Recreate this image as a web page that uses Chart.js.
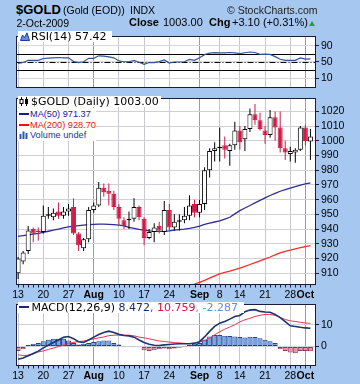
<!DOCTYPE html>
<html><head><meta charset="utf-8">
<script src="https://cdn.jsdelivr.net/npm/chart.js@4.4.1/dist/chart.umd.min.js"></script>
<style>
html,body{margin:0;padding:0;}
body{width:360px;height:384px;background:#a6c8f0;position:relative;overflow:hidden;font-family:"Liberation Sans",Arial,sans-serif;color:#000;}
canvas{position:absolute;left:0;}
.t{position:absolute;white-space:nowrap;line-height:1;}
.lg{position:absolute;white-space:nowrap;line-height:1;background:#fff;font-family:"DejaVu Sans",sans-serif;font-size:11px;}
.sm{position:absolute;white-space:nowrap;line-height:1;background:#fff;font-family:"Liberation Sans",Arial,sans-serif;font-size:9.2px;}
.ln{position:absolute;height:2px;width:10px;}
</style></head><body>
<canvas id="cRsi" width="360" height="68" style="top:28px"></canvas>
<canvas id="cPx" width="360" height="212" style="top:90px"></canvas>
<canvas id="cMacd" width="360" height="88" style="top:296px"></canvas>

<div class="t" style="left:16px;top:3px;font-size:13px;font-weight:bold">$GOLD</div>
<div class="t" style="left:63px;top:4.8px;font-size:10.5px">(Gold (EOD))</div>
<div class="t" style="left:130px;top:4.8px;font-size:10.5px">INDX</div>
<div class="t" style="left:227px;top:4.8px;font-size:10.5px;color:#222">© StockCharts.com</div>
<div class="t" style="left:16.5px;top:17.8px;font-size:10.5px">2-Oct-2009</div>
<div class="t" style="left:129px;top:17.4px;font-size:11px;font-weight:bold">Close</div>
<div class="t" style="left:163px;top:17.4px;font-size:11px">1003.00</div>
<div class="t" style="left:209px;top:17.4px;font-size:11px;font-weight:bold">Chg</div>
<div class="t" style="left:232px;top:17.4px;font-size:11px">+3.10 (+0.31%)</div>
<div style="position:absolute;left:309px;top:21px;width:0;height:0;border-left:3.5px solid transparent;border-right:3.5px solid transparent;border-bottom:5px solid #2a9a3a;"></div>

<!-- RSI legend -->
<div class="lg" style="left:17.5px;top:30.5px;width:94px;height:11px;"></div>
<svg style="position:absolute;left:20px;top:32px" width="10" height="9"><path d="M0.5 8.5 L2.5 3 L4.5 5.5 L7 0.8 L9.5 8.5 Z" fill="#5a8ee0" stroke="#1f3f8f" stroke-width="1"/></svg>
<div class="lg" style="left:31px;top:30.7px;">RSI(14) 57.42</div>

<!-- price legend -->
<div class="lg" style="left:17.5px;top:95.5px;width:143px;height:11.5px;"></div>
<svg style="position:absolute;left:19px;top:97px" width="10" height="9"><path d="M2.5 0 V9 M7.5 0 V9" stroke="#000" stroke-width="1"/><rect x="1" y="2.5" width="3" height="4" fill="#fff" stroke="#000" stroke-width="1"/><rect x="6" y="2" width="3" height="5" fill="#000"/></svg>
<div class="lg" style="left:31px;top:96.4px;">$GOLD (Daily) 1003.00</div>
<div class="sm" style="left:17.5px;top:107.5px;width:78px;height:33px;"></div>
<div class="ln" style="left:19px;top:113px;background:#1a1a90"></div>
<div class="sm" style="left:30px;top:109.5px;color:#1a1a90">MA(50) 971.37</div>
<div class="ln" style="left:19px;top:124px;background:#f01010"></div>
<div class="sm" style="left:30px;top:120.5px;color:#f01010">MA(200) 928.70</div>
<svg style="position:absolute;left:19px;top:131px" width="10" height="8"><rect x="0.5" y="3" width="2" height="5" fill="#2a58b8"/><rect x="3.5" y="0.5" width="2" height="7.5" fill="#2a58b8"/><rect x="6.5" y="2" width="2" height="6" fill="#2a58b8"/></svg>
<div class="sm" style="left:30px;top:130.7px;color:#1a3a8a">Volume undef</div>

<!-- MACD legend -->
<div class="lg" style="left:17.5px;top:302px;width:226px;height:11px;"></div>
<div class="ln" style="left:19px;top:306px;background:#1a2a70"></div>
<div class="lg" style="left:31.5px;top:301.7px;"><span style="color:#000">MACD(12,26,9) </span><span style="color:#1a2a70">8.472</span><span style="color:#e0103a">, 10.759</span><span style="color:#5a90e0">, -2.287</span></div>

<script>
// ---------------- DATA ----------------
const dates = [
 'Jul 13','Jul 14','Jul 15','Jul 16','Jul 17','Jul 20','Jul 21','Jul 22','Jul 23','Jul 24',
 'Jul 27','Jul 28','Jul 29','Jul 30','Jul 31','Aug 3','Aug 4','Aug 5','Aug 6','Aug 7',
 'Aug 10','Aug 11','Aug 12','Aug 13','Aug 14','Aug 17','Aug 18','Aug 19','Aug 20','Aug 21',
 'Aug 24','Aug 25','Aug 26','Aug 27','Aug 28','Aug 31','Sep 1','Sep 2','Sep 3','Sep 4',
 'Sep 8','Sep 9','Sep 10','Sep 11','Sep 14','Sep 15','Sep 16','Sep 17','Sep 18','Sep 21',
 'Sep 22','Sep 23','Sep 24','Sep 25','Sep 28','Sep 29','Sep 30','Oct 1','Oct 2'];
const openP = [
 910,918,925,940,939,938,949,948,952,949,
 952,955,937,927,933,953,956,968,966,964,
 955,946,946,947,955,947,934,938,942,938,
 953,941,945,946,949,957,951,957,980,993,
 995,997,993,997,1007,1001,1008,1018,1014,1007,
 1004,1016,1009,995,991,992,994,1009,999.5];
const highP = [
 921,925,942,941,941,956,955,954,958,955,
 957,961,938,934,955,958,972,971,971,966,
 957,948,952,961,956,948,940,944,945,959,
 957,950,950,955,963,960,960,982,995,999,
 1009,1003,998,1013,1010,1010,1022,1025,1019,1010,
 1021,1020,1020,1000,996,995,1010,1011,1008];
const lowP = [
 906,916,923,931,932,937,947,946,947,947,
 949,936,925,925,931,951,955,962,956,953,
 943,940,940,945,946,929,933,931,937,936,
 939,939,939,944,946,948,948,953,975,986,
 986,988,983,994,994,993,1006,1011,1007,998,
 1002,1000,992,987,986,985,993,997,987];
const closeP = [
 920,924,939,937,938,949,950,951,949,952,
 954,937,929,933,953,956,968,965,964,955,
 947,942,947,955,948,934,938,941,939,953,
 941,945,946,949,956,951,957,980,993,995,
 996,994,997,1007,999,1008,1018,1014,1008,1004,
 1016,1009,995,992,993,994,1009,999.9,1003];
const ma50 = [
 935,935.5,936,936.5,937,937.8,938.5,939.2,940,940.8,
 941.5,942,942.4,942.7,943,943.2,943.3,943.3,943.2,943,
 942.6,942.2,941.2,940.5,939.8,939.2,938.8,938.5,938.4,938.5,
 938.8,939.2,939.6,940,940.5,941.2,942,943.2,944,944.8,
 945.6,946.8,948,950.3,952.5,954.3,956,957.8,959.5,961.2,
 962.8,964.3,965.7,966.8,967.8,968.8,969.8,970.7,971.37];
const ma200 = [
 null,null,null,null,null,null,null,null,null,null,
 null,null,null,null,null,null,null,null,null,null,
 null,null,null,null,null,null,null,null,null,null,
 null,null,899.8,900.8,901.7,902.6,903.7,905.1,906.6,908.1,
 909.5,910.5,911.4,912.4,913.5,914.7,915.9,917.1,918.4,919.7,
 921,922.4,923.8,924.8,925.7,926.5,927.3,928,928.7];
const rsi14 = [
 46.5,48.6,54,53.8,53.8,58.5,59.4,60.2,60.9,60.2,
 60.2,51,48.6,50.5,59,59,65,64.5,62.5,60.2,
 52.5,50.5,50.5,53.8,49.3,44.1,48.6,48.6,51,55,
 47.4,49.9,49.9,50.5,56.3,53.8,60.2,67.9,71.8,73,
 72.2,72,73.1,72,70.5,72.5,74.4,73.1,68.6,69,
 68.5,63,56.5,54,53.8,54,60,57,57.42];
const macdLine = [
 -6.0,-5.4,-4.4,-3.3,-2.2,-0.7,0.6,1.8,3.0,4.2,
 4.6,3.6,2.2,1.8,3.0,4.3,5.5,6.5,7.1,6.5,
 5.6,5.1,4.9,4.3,3.0,1.8,1.0,0.5,0.4,0.7,
 0.9,1.1,1.2,1.2,1.2,1.5,2.2,4.4,7.0,9.3,
 10.8,11.6,12.7,13.9,14.4,16.1,16.9,17.1,16.3,16.0,
 15.9,14.9,13.4,11.5,9.6,9.3,8.9,8.6,8.472];
const signalLine = [
 -3.9,-4.3,-4.1,-3.5,-2.6,-2.1,-1.4,-0.8,-0.1,0.6,
 1.4,1.9,2.2,2.5,3.0,3.5,4.0,4.4,5.0,5.2,
 5.3,5.3,5.2,4.9,4.3,4.0,3.5,3.0,2.5,2.3,
 2.0,1.8,1.6,1.4,1.3,1.4,2.0,2.8,3.8,5.4,
 6.8,8.0,9.0,10.1,11.4,12.4,13.1,13.9,14.5,14.9,
 14.9,14.4,13.5,12.5,11.9,11.6,11.2,10.9,10.759];
const macdHist = [
 -2.1,-1.3,0.6,1.2,1.6,2.4,3.1,3.5,3.5,3.5,
 2.7,1.6,0.9,1.2,1.6,2.1,2.4,2.7,2.7,1.6,
 0.9,0.1,-0.2,-0.2,-0.4,-1.8,-2.1,-1.8,-1.3,-1.0,
 -1.3,-1.0,-0.6,-0.1,0.6,1.2,1.6,3.1,4.6,5.3,
 5.3,5.0,4.8,4.6,4.4,4.1,4.5,4.4,3.8,3.1,
 2.4,1.6,-1.3,-2.1,-2.8,-3.2,-2.1,-2.1,-2.287];
const xTickDates  = ['Jul 13','Jul 20','Jul 27','Aug 3','Aug 10','Aug 17','Aug 24','Sep 1','Sep 8','Sep 14','Sep 21','Sep 28','Oct 1'];
const xTickLabels = ['13','20','27','Aug','10','17','24','Sep','8','14','21','28','Oct'];
const monthLabels = ['Aug','Sep','Oct'];
const priceTicks = [910,920,930,940,950,960,970,980,990,1000,1010,1020];
const rsiTicks = [10,30,50,70,90];
const rsiLevels = [30,50,70];
const macdTicks = [0,10];

// ---------------- SETUP ----------------
const AR = '"Liberation Sans", Arial, sans-serif';
Chart.defaults.font.family = AR;
const tickIdx = xTickDates.map(d => dates.indexOf(d));
const isMonth = v => { const k = tickIdx.indexOf(v); return k >= 0 && monthLabels.includes(xTickLabels[k]); };
const X_MIN = -0.32, X_MAX = 58.91;

function xAxis(show, h) {
  return {
    type: 'linear', min: X_MIN, max: X_MAX, bounds: 'data', offset: false,
    afterBuildTicks: s => { s.ticks = tickIdx.map(v => ({ value: v })); },
    afterFit: s => { s.height = h; },
    grid: { offset: false, drawTicks: false, lineWidth: 1,
      color: c => (c.tick && isMonth(c.tick.value)) ? '#9a9aaa' : '#c8c8d2' },
    border: { display: false },
    ticks: { display: show, autoSkip: false, maxRotation: 0, padding: 4, color: '#000',
      font: c => ({ family: AR, size: 10.5, weight: (c.tick && isMonth(c.tick.value)) ? 'bold' : 'normal' }),
      callback: v => { const k = tickIdx.indexOf(v); return k >= 0 ? xTickLabels[k] : ''; } }
  };
}
function yAxis(min, max, ticks, gridColor) {
  return {
    type: 'linear', position: 'right', min: min, max: max, bounds: 'data',
    afterBuildTicks: s => { s.ticks = ticks.map(v => ({ value: v })); },
    afterFit: s => { s.width = 45; },
    grid: { color: gridColor || '#d0d0da', tickColor: '#1c1c3c', tickLength: 4, drawTicks: true },
    border: { display: false },
    ticks: { padding: 2, color: '#000', font: { family: AR, size: 10.5 }, callback: v => String(v) }
  };
}
const framePlugin = {
  id: 'frame',
  beforeDraw(chart) {
    const a = chart.chartArea, c = chart.ctx;
    c.save(); c.fillStyle = '#fff';
    c.fillRect(a.left, a.top, a.right - a.left, a.bottom - a.top); c.restore();
  },
  afterDraw(chart) {
    const a = chart.chartArea, c = chart.ctx, o = chart.options.plugins.frame || {};
    c.save();
    c.strokeStyle = '#1c1c3c'; c.lineWidth = 1;
    const L = Math.floor(a.left) + 0.5, R = Math.floor(a.right) + 0.5, T = Math.floor(a.top) + 0.5, B = Math.floor(a.bottom) + 0.5;
    c.strokeRect(L, T, R - L, B - T);
    if (o.dayTicks) {
      const xs = chart.scales.x;
      c.beginPath();
      dates.forEach((d, i) => { const x = Math.round(xs.getPixelForValue(i)) + 0.5; c.moveTo(x, B); c.lineTo(x, B + 3); });
      c.stroke();
    }
    c.restore();
  }
};
const levelPlugin = {
  id: 'levels',
  beforeDatasetsDraw(chart) {
    const o = chart.options.plugins.levels;
    if (!o || !o.values) return;
    const a = chart.chartArea, c = chart.ctx, ys = chart.scales.y;
    c.save(); c.strokeStyle = '#000'; c.lineWidth = 1;
    o.values.forEach(v => {
      const y = Math.round(ys.getPixelForValue(v)) + 0.5;
      c.setLineDash(v === 50 ? [6, 2, 1, 2] : []);
      c.beginPath(); c.moveTo(a.left, y); c.lineTo(a.right, y); c.stroke();
    });
    c.restore();
  }
};
const base = (pad, extra) => Object.assign({
  responsive: false, animation: false, events: [],
  layout: { padding: pad },
  plugins: { legend: { display: false }, tooltip: { enabled: false } }
}, extra || {});

// ---------------- RSI ----------------
new Chart(document.getElementById('cRsi'), {
  type: 'line',
  data: { datasets: [{
    data: rsi14.map((v, i) => ({ x: i, y: v })),
    borderColor: '#2f5596', borderWidth: 1.2, pointRadius: 0, tension: 0
  }] },
  options: (() => { const o = base({ left: 16.5, right: 0, top: 1.5, bottom: 1.5 });
    o.scales = { x: xAxis(false, 0), y: yAxis(-13, 112.8, rsiTicks, c => '#d6d6de') };
    o.plugins.levels = { values: rsiLevels }; o.plugins.frame = {}; return o; })(),
  plugins: [framePlugin, levelPlugin]
});

// ---------------- PRICE ----------------
const up = closeP.map((c, i) => c >= openP[i]);
const RED = '#d21a46';
new Chart(document.getElementById('cPx'), {
  type: 'bar',
  data: { datasets: [
    { type: 'line', data: ma50.map((v, i) => ({ x: i, y: v })), borderColor: '#2d2d96', borderWidth: 1.3, pointRadius: 0, tension: 0, order: 2 },
    { type: 'line', data: ma200.map((v, i) => ({ x: i, y: v })), borderColor: '#ff2a2a', borderWidth: 1.3, pointRadius: 0, tension: 0, order: 2 },
    { type: 'bar', data: lowP.map((l, i) => ({ x: i, y: [l, highP[i]] })),
      backgroundColor: up.map(u => u ? '#000' : RED), borderWidth: 0, barThickness: 1,
      grouped: false, inflateAmount: 0, order: 1 },
    { type: 'bar', data: openP.map((o, i) => ({ x: i, y: [o, closeP[i]] })),
      backgroundColor: up.map(u => u ? '#fff' : RED), borderColor: up.map(u => u ? '#000' : RED),
      borderWidth: 1, borderSkipped: false, barThickness: 5, minBarLength: 1,
      grouped: false, inflateAmount: 0, order: 0 }
  ] },
  options: (() => { const o = base({ left: 16.5, right: 0, top: 4.5, bottom: 1.5 });
    o.scales = { x: xAxis(true, 16), y: yAxis(902.3, 1028.9, priceTicks) };
    o.plugins.frame = { dayTicks: true }; return o; })(),
  plugins: [framePlugin]
});

// ---------------- MACD ----------------
new Chart(document.getElementById('cMacd'), {
  type: 'bar',
  data: { datasets: [
    { type: 'line', data: macdLine.map((v, i) => ({ x: i, y: v })), borderColor: '#1a3570', borderWidth: 1.6, pointRadius: 0, tension: 0, order: 0 },
    { type: 'line', data: signalLine.map((v, i) => ({ x: i, y: v })), borderColor: '#ee3456', borderWidth: 1, pointRadius: 0, tension: 0, order: 1 },
    { type: 'bar', data: macdHist.map((v, i) => ({ x: i, y: v })),
      backgroundColor: macdHist.map(v => v >= 0 ? '#72a2ea' : '#f28ca2'),
      borderColor: macdHist.map(v => v >= 0 ? '#26408a' : '#8a3a5a'),
      borderWidth: 1, borderSkipped: false, barThickness: 5, grouped: false, inflateAmount: 0, order: 2 }
  ] },
  options: (() => { const o = base({ left: 16.5, right: 0, top: 5, bottom: 1.5 });
    o.scales = { x: xAxis(true, 17), y: yAxis(-8.9, 19.6, macdTicks) };
    o.plugins.frame = { dayTicks: true }; return o; })(),
  plugins: [framePlugin]
});
</script>
</body></html>
